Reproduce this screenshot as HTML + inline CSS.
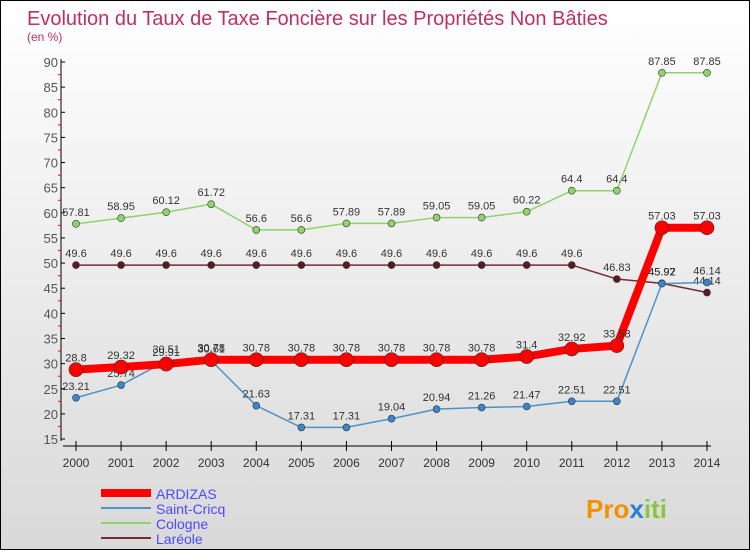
<!DOCTYPE html>
<html><head><meta charset="utf-8"><style>
body{margin:0}
#c{width:748px;height:548px;border:1px solid #000;background:linear-gradient(#fff,#d9d9d9);position:relative;font-family:"Liberation Sans",sans-serif}
</style></head><body>
<div id="c">
<svg width="748" height="548" id="s">
<text x="26" y="24" font-size="20" fill="#c0305f">Evolution du Taux de Taxe Foncière sur les Propriétés Non Bâties</text>
<text x="26" y="40" font-size="12" fill="#c0305f">(en %)</text>
<g id="ax"></g><g id="series"></g>
<g>
<line x1="100" y1="492" x2="150" y2="492" stroke="#f00" stroke-width="8"/>
<text x="155" y="498" font-size="14" fill="#4a4aff">ARDIZAS</text>
<line x1="100" y1="507" x2="150" y2="507" stroke="#4d93c8" stroke-width="2"/>
<text x="155" y="513" font-size="14" fill="#4a4aff">Saint-Cricq</text>
<line x1="100" y1="522" x2="150" y2="522" stroke="#8fd46a" stroke-width="2"/>
<text x="155" y="528" font-size="14" fill="#4a4aff">Cologne</text>
<line x1="100" y1="537" x2="150" y2="537" stroke="#7a2a35" stroke-width="2"/>
<text x="155" y="543" font-size="14" fill="#4a4aff">Laréole</text>
</g>
<text x="585" y="517" font-size="26" font-weight="bold" fill="#f39200">Pro<tspan fill="#2a7fd4">x</tspan><tspan fill="#8bc53f">iti</tspan></text>
</svg></div>
<script>
const years=[2000,2001,2002,2003,2004,2005,2006,2007,2008,2009,2010,2011,2012,2013,2014];
const ardizas=[28.8,29.32,29.91,30.78,30.78,30.78,30.78,30.78,30.78,30.78,31.4,32.92,33.58,57.03,57.03];
const saintCricq=[23.21,25.74,30.51,30.61,21.63,17.31,17.31,19.04,20.94,21.26,21.47,22.51,22.51,45.92,46.14];
const cologne=[57.81,58.95,60.12,61.72,56.6,56.6,57.89,57.89,59.05,59.05,60.22,64.4,64.4,87.85,87.85];
const lareole=[49.6,49.6,49.6,49.6,49.6,49.6,49.6,49.6,49.6,49.6,49.6,49.6,46.83,45.97,44.14];
const yTicks=[15,20,25,30,35,40,45,50,55,60,65,70,75,80,85,90];
const NS="http://www.w3.org/2000/svg";
const X=i=>75+i*45.07, Y=v=>61+(90-v)*5.027;
function mk(t,a,p){const e=document.createElementNS(NS,t);for(const k in a)e.setAttribute(k,a[k]);p.appendChild(e);return e;}
const ax=document.getElementById('ax'), sg=document.getElementById('series');
mk('line',{x1:60,y1:58,x2:60,y2:440,stroke:'#000'},ax);
mk('line',{x1:62,y1:445,x2:710,y2:445,stroke:'#000'},ax);
yTicks.forEach(v=>{mk('line',{x1:60,y1:Y(v),x2:64,y2:Y(v),stroke:'#000'},ax);
 mk('line',{x1:57,y1:Y(v)+12.6,x2:60,y2:Y(v)+12.6,stroke:v>15?'#f00':'none'},ax);
 const t=mk('text',{x:57,y:Y(v)+5,'font-size':13,fill:'#555','text-anchor':'end'},ax);t.textContent=v;
 
 });
years.forEach((y,i)=>{mk('line',{x1:X(i),y1:440,x2:X(i),y2:450,stroke:'#000'},ax);
 const t=mk('text',{x:X(i),y:466,'font-size':12,fill:'#333','text-anchor':'middle'},ax);t.textContent=y;
 
 });
function series(d,col,w,r,name,fillPt){
 const g=mk('g',{},sg);
 
 
 mk('polyline',{points:d.map((v,i)=>X(i)+','+Y(v)).join(' '),fill:'none',stroke:col,'stroke-width':w,'stroke-linejoin':'round'},g);
 d.forEach((v,i)=>{const c=mk('circle',{cx:X(i),cy:Y(v),r:r,fill:fillPt,stroke:'#333','stroke-width':0.6},g);
  
  
  const t=mk('text',{x:X(i),y:Y(v)-8,'font-size':11,fill:'#333','text-anchor':'middle'},g);t.textContent=v;
  
  });
}
series(cologne,'#8fd46a',1.5,3.5,'cologne','#8fd46a');
series(lareole,'#7a2a35',1.5,3.5,'lareole','#5a1a20');
series(saintCricq,'#4d93c8',1.5,3.5,'saint-cricq','#3a86c8');
series(ardizas,'#f00',8,7,'ardizas','#f00');
</script></body></html>
